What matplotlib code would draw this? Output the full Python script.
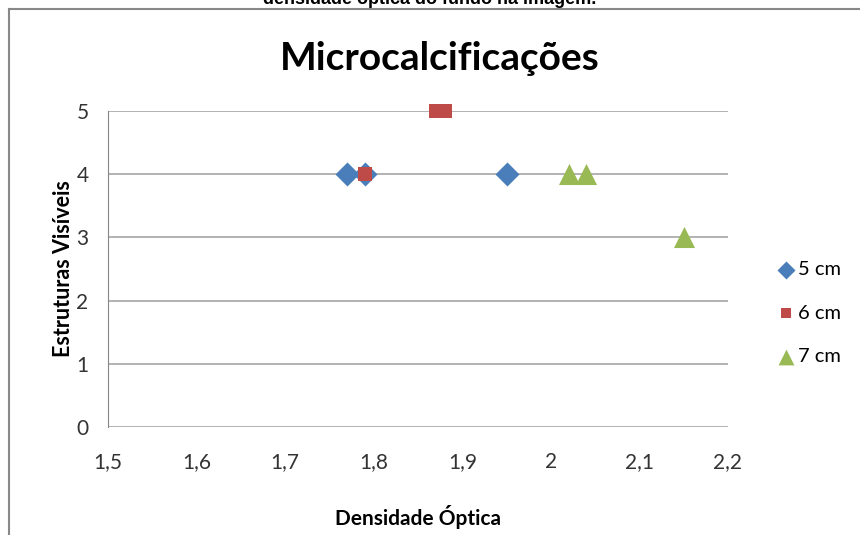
import matplotlib.pyplot as plt
from matplotlib.lines import Line2D

# data
x_5cm = [1.77, 1.79, 1.95]
y_5cm = [4, 4, 4]
x_6cm = [1.79, 1.87, 1.88]
y_6cm = [4, 5, 5]
x_7cm = [2.02, 2.04, 2.15]
y_7cm = [4, 4, 3]

x_ticks = [1.5, 1.6, 1.7, 1.8, 1.9, 2.0, 2.1, 2.2]
x_tick_labels = ["1,5", "1,6", "1,7", "1,8", "1,9", "2", "2,1", "2,2"]
y_ticks = [0, 1, 2, 3, 4, 5]

plt.rcParams['font.family'] = ['Lato', 'DejaVu Sans']

W, H = 860, 535
fig = plt.figure(figsize=(8.6, 5.35), dpi=100)
ax = fig.add_axes([108 / W, 1 - 427 / H, 620 / W, 316 / H])

ax.scatter(x_5cm, y_5cm, marker='D', s=150, color='#4a7ebb', label='5 cm', zorder=3,
           linewidths=0, clip_on=False)
ax.scatter(x_6cm, y_6cm, marker='s', s=110, color='#be4b48', label='6 cm', zorder=3,
           linewidths=0, clip_on=False)
ax.scatter(x_7cm, y_7cm, marker='^', s=230, color='#98b954', label='7 cm', zorder=3,
           linewidths=0, clip_on=False)

ax.set_xlim(1.5, 2.2)
ax.set_ylim(0, 5)
ax.set_xticks(x_ticks)
ax.set_xticklabels(x_tick_labels)
ax.set_yticks(y_ticks)
ax.grid(axis='y', color='#a6a6a6', linewidth=1.2)
ax.set_axisbelow(True)
for side in ['top', 'right', 'bottom']:
    ax.spines[side].set_visible(False)
ax.spines['left'].set_color('#868686')
ax.tick_params(axis='both', length=0, labelsize=15, colors='#333333')
ax.tick_params(axis='y', pad=14)
ax.tick_params(axis='x', pad=18)

fig.text(440 / W, 1 - 58 / H, "Microcalcificações", ha='center', va='center',
         fontsize=28, fontweight='bold')
ax.set_xlabel("Densidade Óptica", fontsize=15, fontweight='bold', labelpad=24)
ax.set_ylabel("Estruturas Visíveis", fontsize=15.5, fontweight='bold', labelpad=2)

ax.legend(loc='center left', bbox_to_anchor=(776 / W, 1 - 313 / H),
          bbox_transform=fig.transFigure, frameon=False, fontsize=14.5,
          handlelength=1.0, handletextpad=0.1, labelspacing=1.3, borderaxespad=0,
          borderpad=0, markerscale=0.75)

# cut-off caption above the chart and the chart frame
fig.text(0.5, 1 - 4 / H, "densidade óptica do fundo na imagem.", ha='center', va='baseline',
         fontsize=13, fontweight='bold', family='Liberation Sans')
fig.add_artist(Line2D([9 / W, 1], [1 - 8.5 / H, 1 - 8.5 / H], color='#888888', linewidth=1.5))
fig.add_artist(Line2D([9 / W, 9 / W], [0, 1 - 8.5 / H], color='#888888', linewidth=1.5))

fig.savefig("out.png", dpi=100)
